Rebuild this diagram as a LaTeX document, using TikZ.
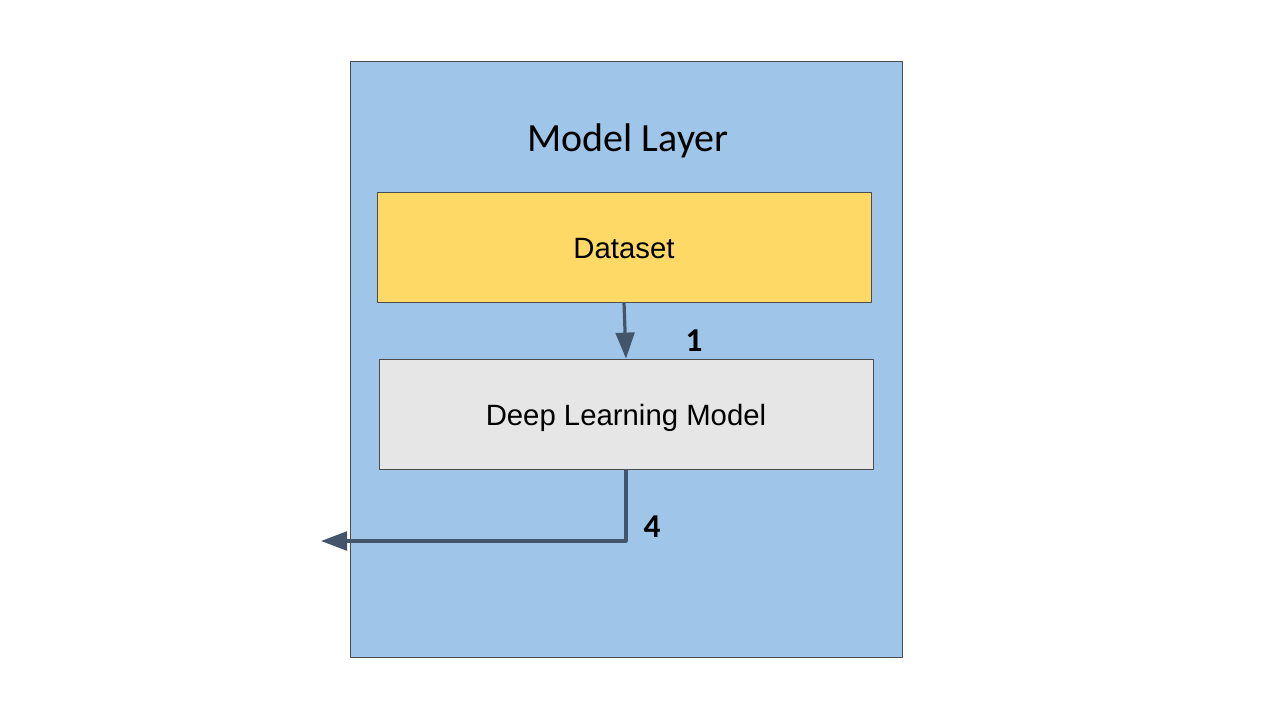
\documentclass[tikz,border=0pt]{standalone}
\usepackage{fontspec}
\setmainfont{Liberation Sans}
\newfontfamily\calibrifont{Carlito}
\usetikzlibrary{arrows.meta,positioning}
\definecolor{layerblue}{HTML}{9FC5E8}
\definecolor{datayellow}{HTML}{FFD966}
\definecolor{modelgrey}{HTML}{E6E6E6}
\definecolor{arrowslate}{HTML}{44546A}
\begin{document}
\begin{tikzpicture}[x=0.75pt,y=-0.75pt, line join=round, >={Triangle[length=19.5pt,width=14pt]},
	box/.style={draw=black!70, line width=0.6pt, minimum width=370.5pt, minimum height=82.5pt,
		text height=21.5pt, text depth=4.5pt, font=\fontsize{22}{26}\selectfont},
	flow/.style={->, draw=arrowslate, line width=2.4pt},
	num/.style={font=\calibrifont\bfseries\fontsize{25}{30}\selectfont}]
	%%Khung hình
	\useasboundingbox (0,0) rectangle (1279,719);
	\fill[white] (0,0) rectangle (1279,719);
	%%Lớp mô hình
	\node[draw=black!70, fill=layerblue, line width=0.6pt, minimum width=414pt, minimum height=447pt] (layer) at (626,359) {};
	\node[font=\calibrifont\fontsize{30}{36}\selectfont] (title) at (628,141) {Model Layer};
	\node[box, fill=datayellow] (ds) at (624,247) {Dataset};
	\node[box, fill=modelgrey] (dl) at (626,414) {Deep Learning Model};
	%%Mũi tên
	\coordinate (out) at (321,541);
	\draw[flow] (ds.south) -- (dl.north);
	\draw[flow] (dl.south) |- (out);
	\node[num] (n1) at (694,341) {1};
	\node[num] (n4) at (652,527) {4};
\end{tikzpicture}
\end{document}
